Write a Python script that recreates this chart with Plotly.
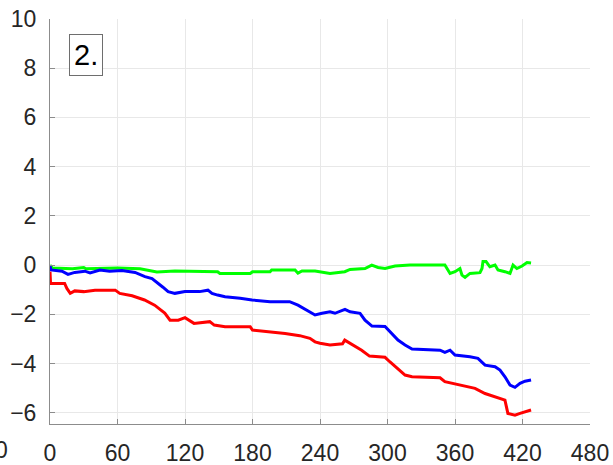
import plotly.graph_objects as go

# Time axis (breakpoints) and the three response series
green_x = [0, 2, 20, 30, 32, 60, 80, 90, 95, 111, 120, 149, 151, 178, 180, 195.6, 197,
           217.8, 220.4, 224, 235.6, 240, 248.9, 262, 266.7, 280, 286, 291.6, 297.8,
           306.7, 320, 351, 352.9, 355.6, 360, 364.4, 366.2, 368.9, 373.3, 382.2, 384,
           384.9, 387.6, 391, 395.6, 398.2, 404.4, 408.9, 411.6, 415, 419.6, 424, 427.6]
green_y = [0.0, -0.12, -0.15, -0.1, -0.15, -0.12, -0.15, -0.22, -0.28, -0.24, -0.24, -0.27, -0.34,
           -0.34, -0.27, -0.27, -0.2, -0.2, -0.33, -0.24, -0.24, -0.27, -0.34, -0.27, -0.18,
           -0.14, 0.0, -0.1, -0.14, -0.04, 0.0, 0.0, -0.14, -0.34, -0.27, -0.14, -0.41,
           -0.5, -0.34, -0.31, -0.14, 0.14, 0.14, -0.07, 0.0, -0.2, -0.27, -0.34, 0.0,
           -0.14, -0.04, 0.1, 0.08]

blue_x = [0, 1, 10.7, 16, 22, 31, 35.6, 44.4, 53, 64, 75.6, 84.4, 90.7, 96, 100.4, 105,
          111, 120, 133, 140.4, 144, 149, 155.6, 169, 179.6, 195.6, 213, 220.4, 226.7,
          235.6, 241.8, 248.9, 253.3, 262.2, 266.7, 275.6, 280, 286.2, 297.8, 302, 309.3,
          315.6, 321.8, 346.7, 351, 355.6, 360, 373.3, 380.4, 386.7, 395.6, 400, 404.4,
          408.9, 413.3, 417.8, 422.2, 427.6]
blue_y = [-0.05, -0.2, -0.25, -0.38, -0.3, -0.25, -0.32, -0.2, -0.25, -0.22, -0.3, -0.47,
          -0.55, -0.73, -0.9, -1.08, -1.15, -1.08, -1.08, -1.02, -1.15, -1.22, -1.29, -1.35,
          -1.42, -1.49, -1.49, -1.63, -1.8, -2.03, -1.96, -1.9, -1.96, -1.8, -1.9, -1.96,
          -2.24, -2.48, -2.5, -2.71, -3.05, -3.25, -3.41, -3.46, -3.55, -3.46, -3.66, -3.73,
          -3.79, -4.07, -4.13, -4.27, -4.54, -4.88, -4.97, -4.81, -4.72, -4.67]

red_x = [0, 0.5, 13, 15, 18, 22, 30, 40, 58, 62, 73, 84, 93, 102, 106.7, 114, 120, 124,
         128, 142, 146, 155.6, 178, 180, 195.6, 209, 222, 231, 235.6, 240, 248.9, 260,
         262, 266.7, 277, 284, 297.8, 302, 309.3, 315.6, 321.8, 346.7, 351, 364, 377.8,
         386.7, 395.6, 404.4, 407, 413.3, 417.8, 427.6]
red_y = [-0.27, -0.75, -0.75, -0.95, -1.15, -1.05, -1.08, -1.02, -1.02, -1.15, -1.25, -1.42,
         -1.63, -1.95, -2.24, -2.24, -2.14, -2.24, -2.37, -2.3, -2.44, -2.51, -2.51, -2.64,
         -2.71, -2.78, -2.87, -2.98, -3.12, -3.18, -3.25, -3.2, -3.05, -3.18, -3.46, -3.7,
         -3.75, -3.93, -4.2, -4.47, -4.54, -4.58, -4.74, -4.88, -5.01, -5.22, -5.35, -5.49,
         -6.03, -6.1, -6.03, -5.89]

x_ticks = [0, 60, 120, 180, 240, 300, 360, 420, 480]
y_ticks = [-6, -4, -2, 0, 2, 4, 6, 8, 10]

FONT = "Liberation Sans, Arial, sans-serif"
TEXT = "#262626"

fig = go.Figure()
for xs, ys, col in [(green_x, green_y, "#00ff00"),
                    (blue_x, blue_y, "#0000ff"),
                    (red_x, red_y, "#ff0000")]:
    fig.add_trace(go.Scatter(x=xs, y=ys, mode="lines",
                             line=dict(color=col, width=3), showlegend=False))

axis_common = dict(
    showline=True, linecolor="#8c8c8c", linewidth=1, mirror=False,
    showgrid=True, gridcolor="#e8e8e8", gridwidth=1,
    zeroline=False,
    ticks="inside", ticklen=5, tickcolor="#8c8c8c",
    tickfont=dict(family=FONT, size=23, color=TEXT),
    automargin=False,
)

fig.update_xaxes(range=[0, 480], tickvals=x_ticks, ticklabelstandoff=8, **axis_common)
fig.update_yaxes(range=[-6.46, 10], tickvals=y_ticks, ticklabelstandoff=8, **axis_common)

fig.add_annotation(
    text="2.", xref="paper", yref="paper", x=0.035, y=0.963,
    xanchor="left", yanchor="top", showarrow=False,
    font=dict(family=FONT, size=29, color="#000000"),
    bordercolor="#6e6e6e", borderwidth=1, borderpad=4, bgcolor="#ffffff",
)

# Tick label of the neighbouring panel, cut by the left edge
fig.add_annotation(
    text="0", xref="paper", yref="paper", x=-0.074, y=-0.064,
    xanchor="right", yanchor="middle", showarrow=False,
    font=dict(family=FONT, size=23, color=TEXT),
)

fig.update_layout(
    width=613, height=465,
    margin=dict(l=50, r=23, t=19, b=41, autoexpand=False),
    plot_bgcolor="#ffffff", paper_bgcolor="#ffffff",
)

fig.write_html("out.html")
